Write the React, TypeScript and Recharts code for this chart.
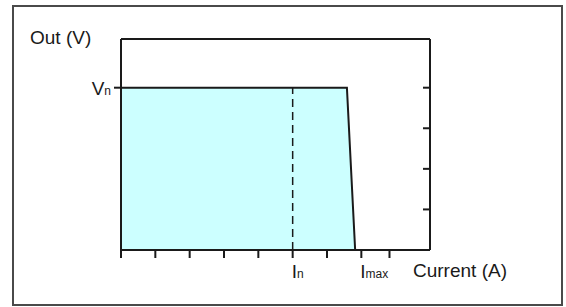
import React from "react";
import {
  Area,
  ComposedChart,
  ReferenceLine,
  XAxis,
  YAxis,
} from "recharts";

// V-I characteristic: flat output up to the current limit, then a steep fold-back.
const curveCurrent = [0, 6.58, 6.82];
const curveVoltage = [4, 4, 0];

const xTicks = [0, 1, 2, 3, 4, 5, 6, 7, 7.82];
const xTickLabels: Record<number, [string, string]> = {
  5: ["I", "n"],
  7: ["I", "max"],
};
const yRightTicks = [1, 2, 3, 4];
const yLeftTicks = [4];
const nominalCurrent = 5;
const nominalVoltage = 4;
const yTop = 5.2;
const xRight = 9;

const data = curveCurrent.map((c, i) => ({ current: c, out: curveVoltage[i] }));

const FONT = '"Liberation Sans", Arial, sans-serif';
const INK = "#1a1a1a";

function CurrentTick({ x, y, payload }: { x?: number; y?: number; payload?: { value: number } }) {
  const lab = payload ? xTickLabels[payload.value] : undefined;
  if (!lab) return <g />;
  return (
    <text x={(x ?? 0) - 1} y={(y ?? 0) + 18} fill={INK} fontFamily={FONT} textAnchor="start">
      <tspan fontSize={19}>{lab[0]}</tspan>
      <tspan fontSize={12}>{lab[1]}</tspan>
    </text>
  );
}

function VoltTick({ x, y }: { x?: number; y?: number }) {
  return (
    <text x={x} y={(y ?? 0) + 7} fill={INK} fontFamily={FONT} textAnchor="end">
      <tspan fontSize={19}>V</tspan>
      <tspan fontSize={12}>n</tspan>
    </text>
  );
}

const NoLabel = () => <g />;

export default function App() {
  return (
    <div style={{ position: "fixed", left: 0, top: 0, width: 566, height: 307, background: "#fff" }}>
      <div
        style={{
          position: "absolute",
          left: 12,
          top: 5,
          width: 551,
          height: 301,
          boxSizing: "border-box",
          border: "2px solid #4a4a4a",
        }}
      />
      <div style={{ position: "absolute", left: 30, top: 27, fontFamily: FONT, fontSize: 19, color: INK, lineHeight: "22px" }}>
        Out (V)
      </div>
      <div style={{ position: "absolute", left: 413, top: 260, fontFamily: FONT, fontSize: 19, color: INK, lineHeight: "22px" }}>
        Current (A)
      </div>
      <ComposedChart
        width={566}
        height={307}
        data={data}
        margin={{ top: 39, right: 126, left: 81, bottom: 27 }}
        style={{ position: "absolute", left: 0, top: 0 }}
      >
        <XAxis
          type="number"
          dataKey="current"
          domain={[0, xRight]}
          ticks={xTicks}
          interval={0}
          allowDataOverflow
          height={30}
          tickSize={8}
          tickMargin={2}
          axisLine={{ stroke: INK, strokeWidth: 2 }}
          tickLine={{ stroke: INK, strokeWidth: 2 }}
          tick={<CurrentTick />}
        />
        <YAxis
          yAxisId="left"
          type="number"
          domain={[0, yTop]}
          ticks={yLeftTicks}
          allowDataOverflow
          width={40}
          tickSize={7}
          tickMargin={3}
          axisLine={{ stroke: INK, strokeWidth: 2 }}
          tickLine={{ stroke: INK, strokeWidth: 2 }}
          tick={<VoltTick />}
        />
        <YAxis
          yAxisId="right"
          orientation="right"
          type="number"
          domain={[0, yTop]}
          ticks={yRightTicks}
          interval={0}
          allowDataOverflow
          width={10}
          tickSize={-7}
          axisLine={{ stroke: INK, strokeWidth: 2 }}
          tickLine={{ stroke: INK, strokeWidth: 2 }}
          tick={<NoLabel />}
        />
        <Area
          yAxisId="left"
          type="linear"
          dataKey="out"
          stroke={INK}
          strokeWidth={2}
          fill="#ccffff"
          fillOpacity={1}
          dot={false}
          activeDot={false}
          isAnimationActive={false}
        />
        <ReferenceLine
          yAxisId="left"
          segment={[
            { x: nominalCurrent, y: 0 },
            { x: nominalCurrent, y: nominalVoltage },
          ]}
          stroke={INK}
          strokeWidth={1.5}
          strokeDasharray="8 5"
        />
        <ReferenceLine yAxisId="left" y={yTop} stroke={INK} strokeWidth={2} />
      </ComposedChart>
    </div>
  );
}
